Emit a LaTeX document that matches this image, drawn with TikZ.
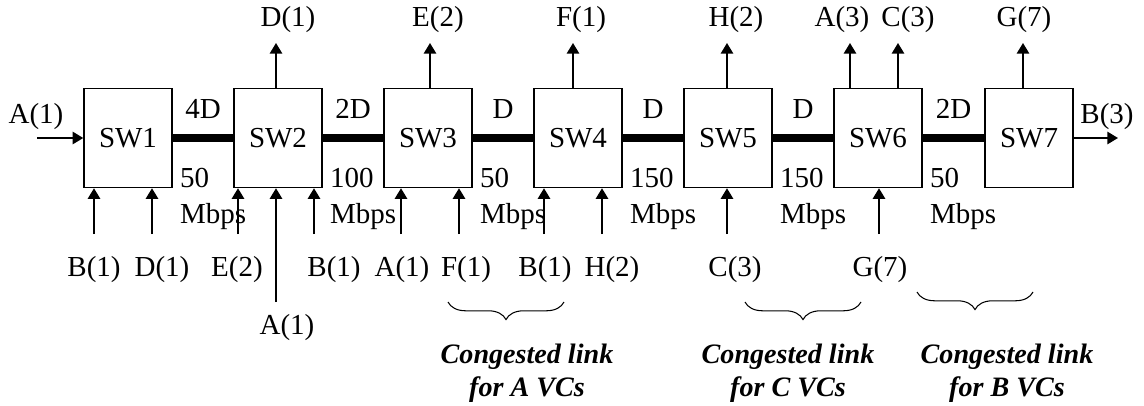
\documentclass[tikz,border=0pt]{standalone}
\usepackage{fontspec}
\setmainfont{Liberation Serif}
\usetikzlibrary{arrows.meta,decorations.pathreplacing}

\tikzset{
  swbox/.style={draw,line width=0.85pt,minimum width=1.76cm,minimum height=1.98cm,inner sep=0pt},
  link/.style={line width=4.5pt},
  flow/.style={line width=0.85pt,-{Triangle[length=6pt,width=7pt]}},
  rate/.style={anchor=base west,align=left,inner sep=0pt},
  vcbrace/.style={decorate,decoration={brace,mirror,amplitude=10pt},line width=0.6pt},
  note/.style={font=\fontsize{16}{18.7}\selectfont\bfseries\itshape,align=center},
}

\begin{document}
\begin{tikzpicture}[x=0.02cm,y=-0.02cm,font=\fontsize{16.5}{20.4}\selectfont]
  \useasboundingbox (0,0) rectangle (1144,406);

  % the seven switches
  \foreach \i/\x in {1/128,2/278,3/428,4/578,5/728,6/878,7/1029}
    \node[swbox] (sw\i) at (\x,138) {SW\i};

  % trunk links: delay above, rate below (base is the Mbps line)
  \foreach \a/\b/\d/\r in {1/2/4D/50,2/3/2D/100,3/4/D/50,4/5/D/150,5/6/D/150,6/7/2D/50} {
    \draw[link] (sw\a.east) -- (sw\b.west);
    \path (sw\a.east) -- (sw\b.west) node[midway,yshift=0.58cm] (dl\a) {\d};
    \node[rate] (rt\a) at ([xshift=0.14cm,yshift=-0.7cm]sw\a.south east) {\r\\Mbps};
  }

  % A enters at SW1, B leaves at SW7
  \node (srcA) at (36,117) {A(1)};
  \coordinate (ain) at (37,138);
  \draw[flow] (ain) -- (sw1.west);
  \node (dstB) at (1107,117) {B(3)};
  \coordinate (bout) at (1118,138);
  \draw[flow] (sw7.east) -- (bout);

  % VCs leaving upwards
  \foreach \s/\ax/\lx/\t [count=\k] in {2/276/288/D(1),3/430/438/E(2),4/573/581/F(1),5/727/736/H(2),
      6/850/842/A(3),6/898/908/C(3),7/1023/1024/G(7)} {
    \node (out\k) at (\lx,20) {\t};
    \coordinate (tp\k) at (\ax,43);
    \draw[flow] (tp\k |- sw\s.north) -- (tp\k);
  }

  % VCs entering from below
  \foreach \s/\ax/\lx/\t [count=\k] in {1/94/94/B(1),1/152/162/D(1),2/238/237/E(2),2/314/334/B(1),
      3/401/402/A(1),3/459/466/F(1),4/544/545/B(1),4/602/612/H(2),5/727/735/C(3),6/879/880/G(7)} {
    \node (in\k) at (\lx,270) {\t};
    \coordinate (ft\k) at (\ax,234);
    \draw[flow] (ft\k) -- (ft\k |- sw\s.south);
  }
  \node (inlong) at (287,328) {A(1)};
  \coordinate (ftlong) at (276,302);
  \draw[flow] (ftlong) -- (ftlong |- sw2.south);

  % congested links
  \draw[vcbrace] (448,302) -- (564,302);
  \node[note] (congA) at (527,373) {Congested link\\for A VCs};
  \draw[vcbrace] (745,302) -- (861,302);
  \node[note] (congC) at (788,373) {Congested link\\for C VCs};
  \draw[vcbrace] (917,292) -- (1033,292);
  \node[note] (congB) at (1007,373) {Congested link\\for B VCs};
\end{tikzpicture}
\end{document}
